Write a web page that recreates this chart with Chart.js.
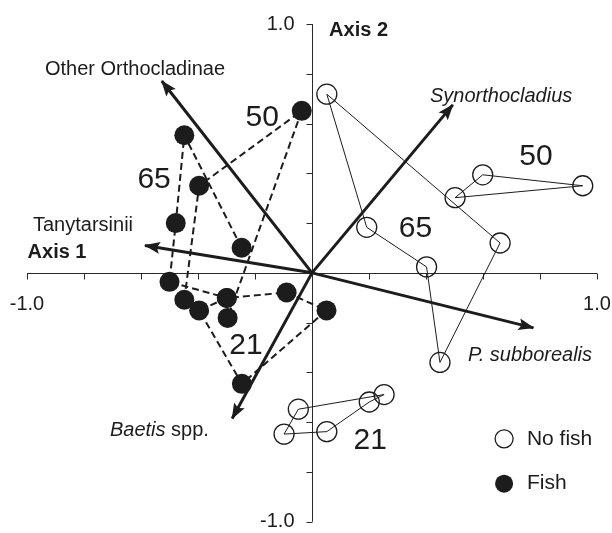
<!DOCTYPE html>
<html>
<head>
<meta charset="utf-8">
<script src="https://cdn.jsdelivr.net/npm/chart.js@4/dist/chart.umd.min.js"></script>
<style>
  html, body { margin: 0; padding: 0; background: #ffffff; }
  canvas { display: block; }
</style>
</head>
<body>
<canvas id="ord" width="612" height="533"></canvas>
<script>
// Sample scores on ordination axes 1 and 2, one list per treatment and day,
// in the order the samples are joined.
const noFish21 = [[-0.048, -0.548], [0.253, -0.489], [0.201, -0.519], [0.052, -0.638], [-0.098, -0.648]];
const noFish50 = [[0.502, 0.302], [0.599, 0.394], [0.950, 0.350]];
const noFish65 = [[0.052, 0.718], [0.192, 0.183], [0.402, 0.024], [0.449, -0.360], [0.660, 0.120]];
const fish21 = [[-0.299, -0.101], [-0.396, -0.151], [-0.246, -0.446], [0.051, -0.151], [-0.089, -0.079]];
const fish50 = [[-0.448, -0.108], [-0.396, 0.350], [-0.036, 0.651], [-0.296, -0.181]];
const fish65 = [[-0.247, 0.101], [-0.448, 0.553], [-0.478, 0.200], [-0.500, -0.036], [-0.299, -0.101]];

// Taxon vectors (arrow tips)
const taxa = ['Other Orthocladinae', 'Tanytarsinii', 'Synorthocladius', 'P. subborealis', 'Baetis spp.'];
const taxaX = [-0.527, -0.586, 0.494, 0.777, -0.280];
const taxaY = [0.771, 0.110, 0.675, -0.221, -0.585];

// Axis ticks and their labels
const axisTicks = [-1.0, -0.8, -0.6, -0.4, -0.2, 0, 0.2, 0.4, 0.6, 0.8, 1.0];
const labelledTicks = [-1.0, 1.0];
const tickLabels = ['-1.0', '1.0'];

const dayNames = ['21', '50', '65'];
const legendNames = ['No fish', 'Fish'];

// ---------------------------------------------------------------------------
// Layout and styling
const INK = '#1c1c1c';
const FONT = '"Liberation Sans", Arial, Helvetica, sans-serif';

// where text sits, in axis units
const dayLabelPos = {
  noFish: { '21': [0.204, -0.671], '50': [0.786, 0.470], '65': [0.363, 0.181] },
  fish:   { '21': [-0.232, -0.288], '50': [-0.175, 0.629], '65': [-0.554, 0.377] }
};
const taxonLabelPos = [[-0.937, 0.817], [-0.979, 0.190], [0.414, 0.710], [0.547, -0.333], [-0.709, -0.635]];
const taxonItalic = [false, false, true, true, 'first'];
const axisNamePos = { 'Axis 1': [-0.998, 0.083], 'Axis 2': [0.060, 0.972] };
const legendPos = { marker: 0.674, text: 0.754, rows: [-0.667, -0.847] };

function toPoints(arr, closed) {
  const d = arr.map(p => ({ x: p[0], y: p[1] }));
  if (closed) d.push({ x: arr[0][0], y: arr[0][1] });
  return d;
}

function groupDataset(arr, fish, closed) {
  const n = arr.length;
  return {
    data: toPoints(arr, closed),
    showLine: true,
    tension: 0,
    clip: false,
    borderColor: INK,
    borderWidth: fish ? 2 : 1,
    borderDash: fish ? [7, 4] : [],
    pointRadius: c => (c.dataIndex >= n ? 0 : 10),
    pointHoverRadius: c => (c.dataIndex >= n ? 0 : 10),
    pointBackgroundColor: fish ? INK : 'rgba(0,0,0,0)',
    pointBorderColor: INK,
    pointBorderWidth: fish ? 0 : 1.3
  };
}

const arrowDatasets = taxa.map((name, i) => ({
  data: [{ x: 0, y: 0 }, { x: taxaX[i], y: taxaY[i] }],
  showLine: true,
  clip: false,
  borderColor: INK,
  borderWidth: 3,
  borderCapStyle: 'butt',
  pointRadius: 0,
  pointHoverRadius: 0
}));

const datasets = [
  ...arrowDatasets,
  groupDataset(fish21, true, true),
  groupDataset(fish50, true, false),
  groupDataset(fish65, true, false),
  groupDataset(noFish21, false, true),
  groupDataset(noFish50, false, true),
  groupDataset(noFish65, false, true)
];

// Axes crossing at the origin, arrowheads, and all text
const ordinationDecor = {
  id: 'ordinationDecor',
  beforeDatasetsDraw(chart) {
    const { ctx } = chart;
    const sx = chart.scales.x, sy = chart.scales.y;
    const x0 = Math.round(sx.getPixelForValue(0)) + 0.5;
    const y0 = Math.round(sy.getPixelForValue(0)) + 0.5;
    ctx.save();
    ctx.strokeStyle = '#2a2a2a';
    ctx.lineWidth = 1;
    ctx.beginPath();
    ctx.moveTo(sx.getPixelForValue(-1), y0);
    ctx.lineTo(sx.getPixelForValue(1), y0);
    ctx.moveTo(x0, sy.getPixelForValue(1));
    ctx.lineTo(x0, sy.getPixelForValue(-1));
    axisTicks.forEach(v => {
      const px = Math.round(sx.getPixelForValue(v)) + 0.5;
      ctx.moveTo(px, y0);
      ctx.lineTo(px, y0 + 6);
      const py = Math.round(sy.getPixelForValue(v)) + 0.5;
      ctx.moveTo(x0, py);
      ctx.lineTo(x0 - 6, py);
    });
    ctx.stroke();

    ctx.fillStyle = INK;
    ctx.font = '20px ' + FONT;
    ctx.textBaseline = 'middle';
    labelledTicks.forEach((v, i) => {
      ctx.textAlign = 'center';
      ctx.fillText(tickLabels[i], sx.getPixelForValue(v), y0 + 31);
      ctx.textAlign = 'right';
      ctx.fillText(tickLabels[i], x0 - 18, sy.getPixelForValue(v));
    });
    ctx.restore();
  },
  afterDatasetsDraw(chart) {
    const { ctx } = chart;
    const sx = chart.scales.x, sy = chart.scales.y;
    const X = v => sx.getPixelForValue(v);
    const Y = v => sy.getPixelForValue(v);
    ctx.save();
    ctx.fillStyle = INK;

    // arrowheads
    taxa.forEach((name, i) => {
      const tx = X(taxaX[i]), ty = Y(taxaY[i]);
      const ang = Math.atan2(ty - Y(0), tx - X(0));
      const len = 15, half = 6;
      ctx.save();
      ctx.translate(tx, ty);
      ctx.rotate(ang);
      ctx.beginPath();
      ctx.moveTo(1, 0);
      ctx.lineTo(-len, -half);
      ctx.lineTo(-len + 3, 0);
      ctx.lineTo(-len, half);
      ctx.closePath();
      ctx.fill();
      ctx.restore();
    });

    ctx.textBaseline = 'middle';
    ctx.textAlign = 'left';

    // taxon names
    taxa.forEach((name, i) => {
      const [lx, ly] = taxonLabelPos[i];
      const px = X(lx), py = Y(ly);
      const it = taxonItalic[i];
      if (it === 'first') {
        const sp = name.indexOf(' ');
        const a = name.slice(0, sp), b = name.slice(sp);
        ctx.font = 'italic 20px ' + FONT;
        ctx.fillText(a, px, py);
        const w = ctx.measureText(a).width;
        ctx.font = '20px ' + FONT;
        ctx.fillText(b, px + w, py);
      } else {
        ctx.font = (it ? 'italic ' : '') + '20px ' + FONT;
        ctx.fillText(name, px, py);
      }
    });

    // axis names
    ctx.font = 'bold 20px ' + FONT;
    Object.keys(axisNamePos).forEach(k => {
      const [ax, ay] = axisNamePos[k];
      ctx.fillText(k, X(ax), Y(ay));
    });

    // day numbers
    ctx.font = '30px ' + FONT;
    ctx.textAlign = 'center';
    ['noFish', 'fish'].forEach(t => {
      dayNames.forEach(d => {
        const [dx, dy] = dayLabelPos[t][d];
        ctx.fillText(d, X(dx), Y(dy) + 1);
      });
    });

    // legend
    ctx.textAlign = 'left';
    ctx.font = '21px ' + FONT;
    legendNames.forEach((name, i) => {
      const mx = X(legendPos.marker), my = Y(legendPos.rows[i]);
      ctx.beginPath();
      ctx.arc(mx, my, 9, 0, Math.PI * 2);
      if (i === 0) {
        ctx.fillStyle = '#ffffff';
        ctx.fill();
        ctx.lineWidth = 1.3;
        ctx.strokeStyle = INK;
        ctx.stroke();
      } else {
        ctx.fillStyle = INK;
        ctx.fill();
      }
      ctx.fillStyle = INK;
      ctx.fillText(name, X(legendPos.text), my);
    });
    ctx.restore();
  }
};

new Chart(document.getElementById('ord'), {
  type: 'scatter',
  data: { datasets },
  options: {
    responsive: false,
    animation: false,
    events: [],
    layout: { padding: { left: 27, right: 15, top: 24, bottom: 6 } },
    scales: {
      x: { type: 'linear', min: -1, max: 1, display: false },
      y: { type: 'linear', min: -1, max: 1, display: false }
    },
    plugins: {
      legend: { display: false },
      tooltip: { enabled: false }
    }
  },
  plugins: [ordinationDecor]
});
</script>
</body>
</html>
